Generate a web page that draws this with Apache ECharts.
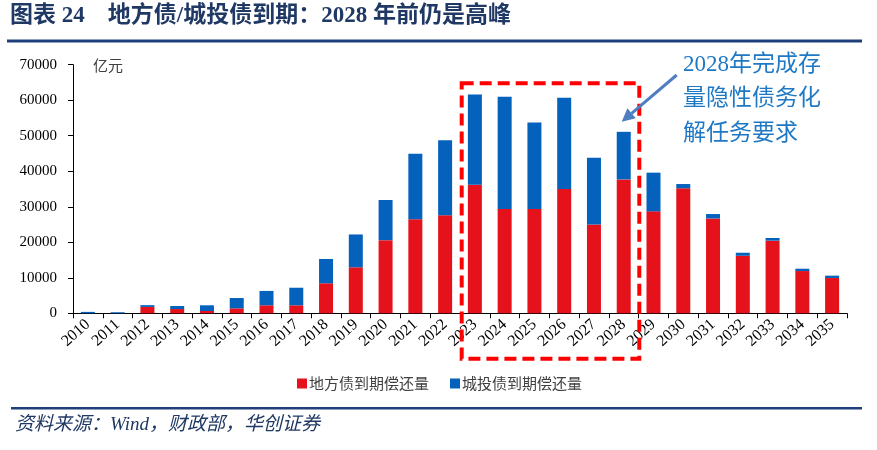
<!DOCTYPE html>
<html>
<head>
<meta charset="utf-8">
<script src="https://cdn.jsdelivr.net/npm/echarts@6/dist/echarts.min.js"></script>
<style>
html,body{margin:0;padding:0;background:#fff;}
#main{width:877px;height:450px;}
</style>
</head>
<body>
<div id="main"></div>
<script>
const years = ['2010','2011','2012','2013','2014','2015','2016','2017','2018','2019','2020','2021','2022','2023','2024','2025','2026','2027','2028','2029','2030','2031','2032','2033','2034','2035'];
const localDebt = [0, 0, 1800, 1200, 650, 1400, 2250, 2250, 8450, 12950, 20600, 26500, 27600, 36200, 29400, 29400, 35000, 25000, 37700, 28700, 35200, 26700, 16200, 20450, 11900, 9950];
const chengtouTotal = [400, 300, 2300, 2050, 2250, 4300, 6300, 7200, 15300, 22200, 31900, 44900, 48700, 61600, 61000, 53700, 60700, 43800, 51100, 39600, 36400, 27950, 17050, 21200, 12550, 10600];
const chengtouDebt = chengtouTotal.map((t, i) => t - localDebt[i]);
const yTicks = [0, 10000, 20000, 30000, 40000, 50000, 60000, 70000];
const titleText = '图表 24　地方债/城投债到期：2028 年前仍是高峰';
const noteLines = ['2028年完成存', '量隐性债务化', '解任务要求'];
const sourceText = '资料来源：Wind，财政部，华创证券';
const seriesNames = ['地方债到期偿还量', '城投债到期偿还量'];

const serif = '"Liberation Serif","Times New Roman","Noto Sans CJK SC",serif';
const chart = echarts.init(document.getElementById('main'), null, {renderer: 'canvas'});

const ax = 676.7, ay = 75, tx = 621.7, ty = 121.7;
const dx = tx - ax, dy = ty - ay, len = Math.hypot(dx, dy);
const ux = dx / len, uy = dy / len, nx = -uy, ny = ux;
const headL = 13, headW = 6.5;
const bx = tx - headL * ux, by = ty - headL * uy;

chart.setOption({
  animation: false,
  grid: {left: 73, right: 30, top: 64.7, bottom: 136.7, containLabel: false},
  legend: {
    left: 297, top: 376, padding: 0,
    itemWidth: 10, itemHeight: 10, itemGap: 21,
    icon: 'rect',
    textStyle: {fontSize: 15, color: '#404040', fontFamily: '"Noto Sans CJK SC",sans-serif', padding: [0,0,0,-3]},
    data: seriesNames
  },
  xAxis: {
    type: 'category', data: years,
    axisLine: {lineStyle: {color: '#000', width: 1}},
    axisTick: {show: true, length: 5, lineStyle: {color: '#000'}},
    axisLabel: {rotate: 42, fontSize: 16, color: '#000', fontFamily: serif, margin: 9, interval: 0}
  },
  yAxis: {
    type: 'value', min: 0, max: 70000, interval: 10000,
    axisLine: {show: true, lineStyle: {color: '#000', width: 1}},
    axisTick: {show: true, length: 5, lineStyle: {color: '#000'}},
    splitLine: {show: false},
    axisLabel: {fontSize: 15, color: '#000', fontFamily: serif, margin: 16, formatter: v => String(v)}
  },
  series: [
    {name: seriesNames[0], type: 'bar', stack: 'a', data: localDebt, barWidth: 14, itemStyle: {color: '#E5121C'}},
    {name: seriesNames[1], type: 'bar', stack: 'a', data: chengtouDebt, barWidth: 14, itemStyle: {color: '#0562BC'}}
  ],
  graphic: [
    {type: 'text', left: 10, top: 5, style: {text: titleText, fontSize: 23, fontWeight: 'bold', fill: '#1F3864', fontFamily: serif}},
    {type: 'rect', shape: {x: 7, y: 39.5, width: 855, height: 3}, style: {fill: '#1F3F7A'}},
    {type: 'text', left: 93, top: 58, style: {text: '亿元', fontSize: 15, fill: '#404040', fontFamily: '"Noto Sans CJK SC",sans-serif'}},
    {type: 'rect', shape: {x: 461.7, y: 83.3, width: 177.6, height: 275.5}, style: {fill: 'none', stroke: '#FF0000', lineWidth: 4, lineDash: [12, 6]}, z: 10},
    {type: 'line', shape: {x1: ax, y1: ay, x2: bx, y2: by}, style: {stroke: '#4F7EC0', lineWidth: 3}, z: 10},
    {type: 'polygon', shape: {points: [[tx, ty], [bx + headW * nx, by + headW * ny], [bx - headW * nx, by - headW * ny]]}, style: {fill: '#4F7EC0'}, z: 10},
    {type: 'text', left: 683, top: 53, style: {text: noteLines[0], fontSize: 23, fill: '#1E78C4', fontFamily: serif}},
    {type: 'text', left: 683, top: 87, style: {text: noteLines[1], fontSize: 23, fill: '#1E78C4', fontFamily: serif}},
    {type: 'text', left: 683, top: 122, style: {text: noteLines[2], fontSize: 23, fill: '#1E78C4', fontFamily: serif}},
    {type: 'rect', shape: {x: 11, y: 407, width: 851, height: 2.5}, style: {fill: '#1F3F7A'}},
    {type: 'text', left: 15, top: 415, style: {text: sourceText, fontSize: 19, fontStyle: 'italic', fill: '#1F3864', fontFamily: serif}}
  ]
});
</script>
</body>
</html>
